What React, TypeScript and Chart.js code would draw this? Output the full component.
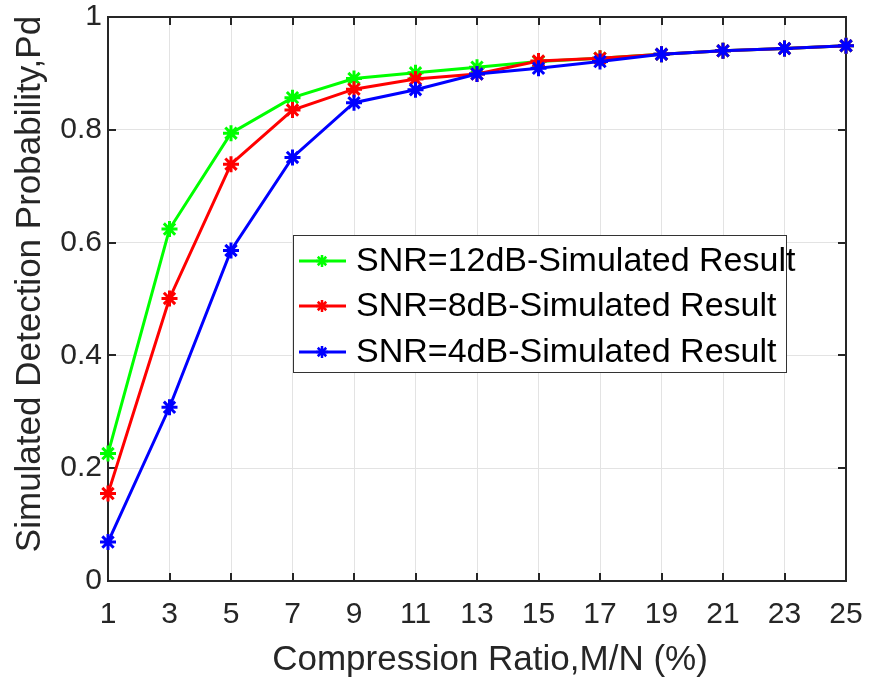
import React, { useEffect, useRef } from "react";
import { Chart, registerables } from "chart.js";

Chart.register(...registerables);

const xValues = [1, 3, 5, 7, 9, 11, 13, 15, 17, 19, 21, 23, 25];
const snr12 = [0.226, 0.624, 0.794, 0.857, 0.891, 0.901, 0.911, 0.921, 0.927, 0.934, 0.94, 0.944, 0.949];
const snr8 = [0.155, 0.501, 0.739, 0.835, 0.872, 0.89, 0.899, 0.922, 0.927, 0.934, 0.94, 0.944, 0.949];
const snr4 = [0.069, 0.308, 0.586, 0.751, 0.848, 0.871, 0.899, 0.909, 0.921, 0.934, 0.94, 0.944, 0.949];
const seriesLabels = ["SNR=12dB-Simulated Result", "SNR=8dB-Simulated Result", "SNR=4dB-Simulated Result"];
const seriesColors = ["#00ff00", "#ff0000", "#0000ff"];
const xTicks = [1, 3, 5, 7, 9, 11, 13, 15, 17, 19, 21, 23, 25];
const yTicks = [0, 0.2, 0.4, 0.6, 0.8, 1];
const xTitle = "Compression Ratio,M/N (%)";
const yTitle = "Simulated Detection Probability,Pd";

const FONT = "'Liberation Sans', Arial, Helvetica, sans-serif";
const AXIS = "#262626";

const boxPlugin = {
  id: "matlabBox",
  beforeDatasetsDraw(chart: any) {
    const { ctx, chartArea: a, scales } = chart;
    ctx.save();
    ctx.strokeStyle = AXIS;
    ctx.lineWidth = 2;
    ctx.strokeRect(a.left, a.top, a.right - a.left, a.bottom - a.top);
    const tl = 8;
    ctx.beginPath();
    for (const v of xTicks) {
      const px = Math.round(scales.x.getPixelForValue(v));
      ctx.moveTo(px, a.bottom);
      ctx.lineTo(px, a.bottom - tl);
      ctx.moveTo(px, a.top);
      ctx.lineTo(px, a.top + tl);
    }
    for (const v of yTicks) {
      const py = Math.round(scales.y.getPixelForValue(v));
      ctx.moveTo(a.left, py);
      ctx.lineTo(a.left + tl, py);
      ctx.moveTo(a.right, py);
      ctx.lineTo(a.right - tl, py);
    }
    ctx.stroke();
    ctx.restore();
  },
};

const titlePlugin = {
  id: "axisTitles",
  afterDraw(chart: any) {
    const { ctx } = chart;
    ctx.save();
    ctx.fillStyle = AXIS;
    ctx.font = `35px ${FONT}`;
    ctx.textAlign = "center";
    ctx.textBaseline = "alphabetic";
    ctx.fillText(xTitle, 490, 670);
    ctx.translate(40, 284);
    ctx.rotate(-Math.PI / 2);
    ctx.fillText(yTitle, 0, 0);
    ctx.restore();
  },
};

const legendPlugin = {
  id: "insideLegend",
  afterDraw(chart: any) {
    const { ctx } = chart;
    const left = 293;
    const top = 235;
    const w = 493;
    const h = 137;
    const rows = [261, 306, 352];
    ctx.save();
    ctx.fillStyle = "#ffffff";
    ctx.fillRect(left, top, w, h);
    ctx.strokeStyle = "#333333";
    ctx.lineWidth = 1;
    ctx.strokeRect(left + 0.5, top + 0.5, w, h);
    ctx.font = `34px ${FONT}`;
    ctx.textBaseline = "middle";
    ctx.textAlign = "left";
    seriesLabels.forEach((lab, i) => {
      const y = rows[i];
      ctx.strokeStyle = seriesColors[i];
      ctx.lineWidth = 3;
      ctx.beginPath();
      ctx.moveTo(299, y);
      ctx.lineTo(346, y);
      ctx.stroke();
      ctx.lineWidth = 2.5;
      ctx.beginPath();
      const r = 6;
      const cx = 322;
      for (let k = 0; k < 4; k++) {
        const ang = (k * Math.PI) / 4;
        ctx.moveTo(cx - r * Math.cos(ang), y - r * Math.sin(ang));
        ctx.lineTo(cx + r * Math.cos(ang), y + r * Math.sin(ang));
      }
      ctx.stroke();
      ctx.fillStyle = "#000000";
      ctx.fillText(lab, 356, y + 1);
    });
    ctx.restore();
  },
};

export default function App() {
  const ref = useRef<HTMLCanvasElement | null>(null);

  useEffect(() => {
    document.body.style.margin = "0";
    const canvas = ref.current;
    if (!canvas) return;
    const series = [snr12, snr8, snr4];
    const datasets = series.map((vals, i) => ({
      label: seriesLabels[i],
      data: xValues.map((x, j) => ({ x, y: vals[j] })),
      borderColor: seriesColors[i],
      backgroundColor: seriesColors[i],
      pointBorderColor: seriesColors[i],
      pointBackgroundColor: seriesColors[i],
      borderWidth: 3,
      pointStyle: "star",
      pointRadius: 8,
      pointBorderWidth: 3,
      tension: 0,
      clip: false as any,
      order: 2 - i,
    }));
    const chart = new Chart(canvas, {
      type: "line",
      data: { datasets },
      options: {
        animation: false,
        responsive: false,
        devicePixelRatio: 1,
        layout: { padding: { top: 17, right: 23, left: 0, bottom: 0 } },
        plugins: { legend: { display: false }, tooltip: { enabled: false } },
        scales: {
          x: {
            type: "linear",
            min: 1,
            max: 25,
            afterBuildTicks: (s: any) => {
              s.ticks = xTicks.map((v) => ({ value: v }));
            },
            afterFit: (s: any) => {
              s.height = 97;
              s.paddingLeft = 0;
              s.paddingRight = 0;
            },
            grid: { color: "#e3e3e3", lineWidth: 1, drawTicks: false },
            border: { display: false },
            ticks: {
              color: AXIS,
              font: { family: FONT, size: 30 },
              padding: 16,
              maxRotation: 0,
              autoSkip: false,
              callback: (v: any) => String(v),
            },
          },
          y: {
            type: "linear",
            min: 0,
            max: 1,
            afterBuildTicks: (s: any) => {
              s.ticks = yTicks.map((v) => ({ value: v }));
            },
            afterFit: (s: any) => {
              s.width = 108;
              s.paddingTop = 0;
              s.paddingBottom = 0;
            },
            grid: { color: "#e3e3e3", lineWidth: 1, drawTicks: false },
            border: { display: false },
            ticks: {
              color: AXIS,
              font: { family: FONT, size: 30 },
              padding: 6,
              autoSkip: false,
              callback: (v: any) => String(Number(Number(v).toFixed(1))),
            },
          },
        },
      },
      plugins: [boxPlugin, legendPlugin, titlePlugin],
    } as any);
    return () => chart.destroy();
  }, []);

  return (
    <div style={{ width: 869, height: 678, position: "relative", background: "#ffffff" }}>
      <canvas ref={ref} width={869} height={678} style={{ display: "block" }} />
    </div>
  );
}
